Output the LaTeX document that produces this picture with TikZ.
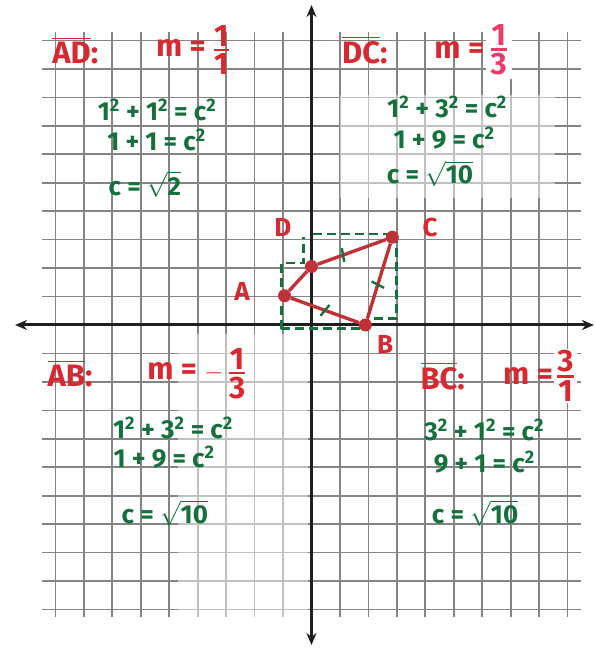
\documentclass[tikz,border=0pt]{standalone}
\usepackage{amsmath}
\usepackage{fontspec}
\setmainfont{Fira Sans}
\usetikzlibrary{arrows.meta,calc}
\definecolor{penRed}{RGB}{214,42,50}
\definecolor{penPink}{RGB}{236,58,105}
\definecolor{penGreen}{RGB}{22,112,62}
\definecolor{gridGray}{RGB}{132,132,132}
\definecolor{segRed}{RGB}{192,50,58}
\newcommand{\penfrac}[2]{\genfrac{}{}{2.6pt}{}{\mbox{#1}}{\mbox{#2}}}
\newcommand{\sq}{\textsuperscript{2}}
\newcommand{\penroot}[1]{$\smash{\sqrt{\mbox{#1}}}$}

\begin{document}
\begin{tikzpicture}[x=26.95pt,y=29.25pt,
    gridline/.style={draw=gridGray,line width=1.7pt},
    faded/.style={fill=white,opacity=0.5},
    axis/.style={draw=black!88,line width=3pt,
      {Stealth[length=12pt,width=10pt]}-{Stealth[length=12pt,width=10pt]}},
    side/.style={draw=segRed,line width=3.4pt},
    guide/.style={draw=penGreen,line width=2.4pt,dash pattern=on 9pt off 5pt},
    tick/.style={draw=penGreen,line width=2.4pt},
    pt/.style={circle,fill=segRed,inner sep=0pt,minimum size=13pt},
    vlabel/.style={text=penRed,font=\fontsize{26}{28}\selectfont\bfseries},
    slope/.style={text=penRed,font=\fontsize{31}{33}\selectfont\bfseries,inner sep=1pt},
    work/.style={text=penGreen,font=\fontsize{26}{28}\selectfont\bfseries,inner sep=0pt}
  ]
  \useasboundingbox (-11.558,-11.043) rectangle (10.519,11.111);

  % graph paper and axes
  \draw[gridline] (-10,-10) grid (10,10);
  \fill[faded] (1.06,4.34) rectangle (9.04,7.86);
  \fill[faded] (-4.95,-10.05) rectangle (-0.12,-0.3);
  \draw[axis] (-11.0,0) -- (10.48,0);
  \draw[axis] (0,-10.94) -- (0,10.94);

  % right-triangle guides (green, dashed)
  \draw[guide] (-1.12,-0.12) -- (-1.12,2.12) -- (-0.3,2.12) -- (-0.3,3.0);
  \draw[guide] (0.05,3.12) -- (3.15,3.12) -- (3.15,0.22) -- (2.05,0.22);
  \draw[guide] (-1.12,-0.12) -- (1.85,-0.12);

  % the quadrilateral ABCD
  \node[pt] (A) at (-1,1) {};
  \node[pt] (B) at (2,0) {};
  \node[pt] (C) at (3,3) {};
  \node[pt] (D) at (0,2) {};
  \draw[side] (A) -- (B) -- (C) -- (D) -- (A);

  % congruence ticks
  \draw[tick] ($(D)!0.39!(C)!7pt!80:(C)$) -- ($(D)!0.39!(C)!-7pt!80:(C)$);
  \draw[tick] ($(B)!0.46!(C)!7pt!80:(C)$) -- ($(B)!0.46!(C)!-7pt!80:(C)$);
  \draw[tick] ($(A)!0.5!(B)!7pt!70:(B)$) -- ($(A)!0.5!(B)!-7pt!70:(B)$);

  \node[vlabel] (labA) at (-2.58,1.13) {A};
  \node[vlabel] (labB) at (2.73,-0.68) {B};
  \node[vlabel] (labC) at (4.40,3.32) {C};
  \node[vlabel] (labD) at (-1.06,3.32) {D};

  % slopes
  \node[slope] (adName) at (-8.76,9.40) {$\overline{\mbox{AD}}$:};
  \node[slope] (adSlope) at (-4.4,9.40) {m = $\penfrac{1}{1}$};
  \node[slope] (dcName) at (1.98,9.40) {$\overline{\mbox{DC}}$:};
  \node[slope,anchor=east] (dcSlope) at (6.45,9.40) {m =};
  \node[slope,text=penPink,fill=white,inner sep=4pt,anchor=west] (dcFrac)
    at (dcSlope.east) {$\penfrac{1}{3}$};
  \node[slope] (abName) at (-8.96,-1.66) {$\overline{\mbox{AB}}$:};
  \node[slope] (abSlope) at (-4.25,-1.66) {m = $-\,\penfrac{1}{3}$};
  \node[slope] (bcName) at (4.87,-1.74) {$\overline{\mbox{BC}}$:};
  \node[slope,anchor=east] (bcSlope) at (9.0,-1.74) {m =};
  \node[slope,fill=white,inner sep=2pt,anchor=west] (bcFrac)
    at (bcSlope.east) {$\penfrac{3}{1}$};

  % Pythagoras on each side
  \node[work] (adOne) at (-5.73,7.35) {1\sq{} + 1\sq{} = c\sq};
  \node[work] (adTwo) at (-5.75,6.32) {1 + 1 = c\sq};
  \node[work] (adThree) at (-6.18,4.68) {c = \penroot{2}};

  \node[work] (dcOne) at (5.03,7.45) {1\sq{} + 3\sq{} = c\sq};
  \node[work] (dcTwo) at (4.92,6.39) {1 + 9 = c\sq};
  \node[work] (dcThree) at (4.40,5.06) {c = \penroot{10}};

  \node[work] (abOne) at (-5.14,-3.52) {1\sq{} + 3\sq{} = c\sq};
  \node[work] (abTwo) at (-5.47,-4.51) {1 + 9 = c\sq};
  \node[work] (abThree) at (-5.44,-6.56) {c = \penroot{10}};

  \node[work] (bcOne) at (6.41,-3.59) {3\sq{} + 1\sq{} = c\sq};
  \node[work] (bcTwo) at (6.41,-4.68) {9 + 1 = c\sq};
  \node[work] (bcThree) at (6.07,-6.56) {c = \penroot{10}};
\end{tikzpicture}
\end{document}
